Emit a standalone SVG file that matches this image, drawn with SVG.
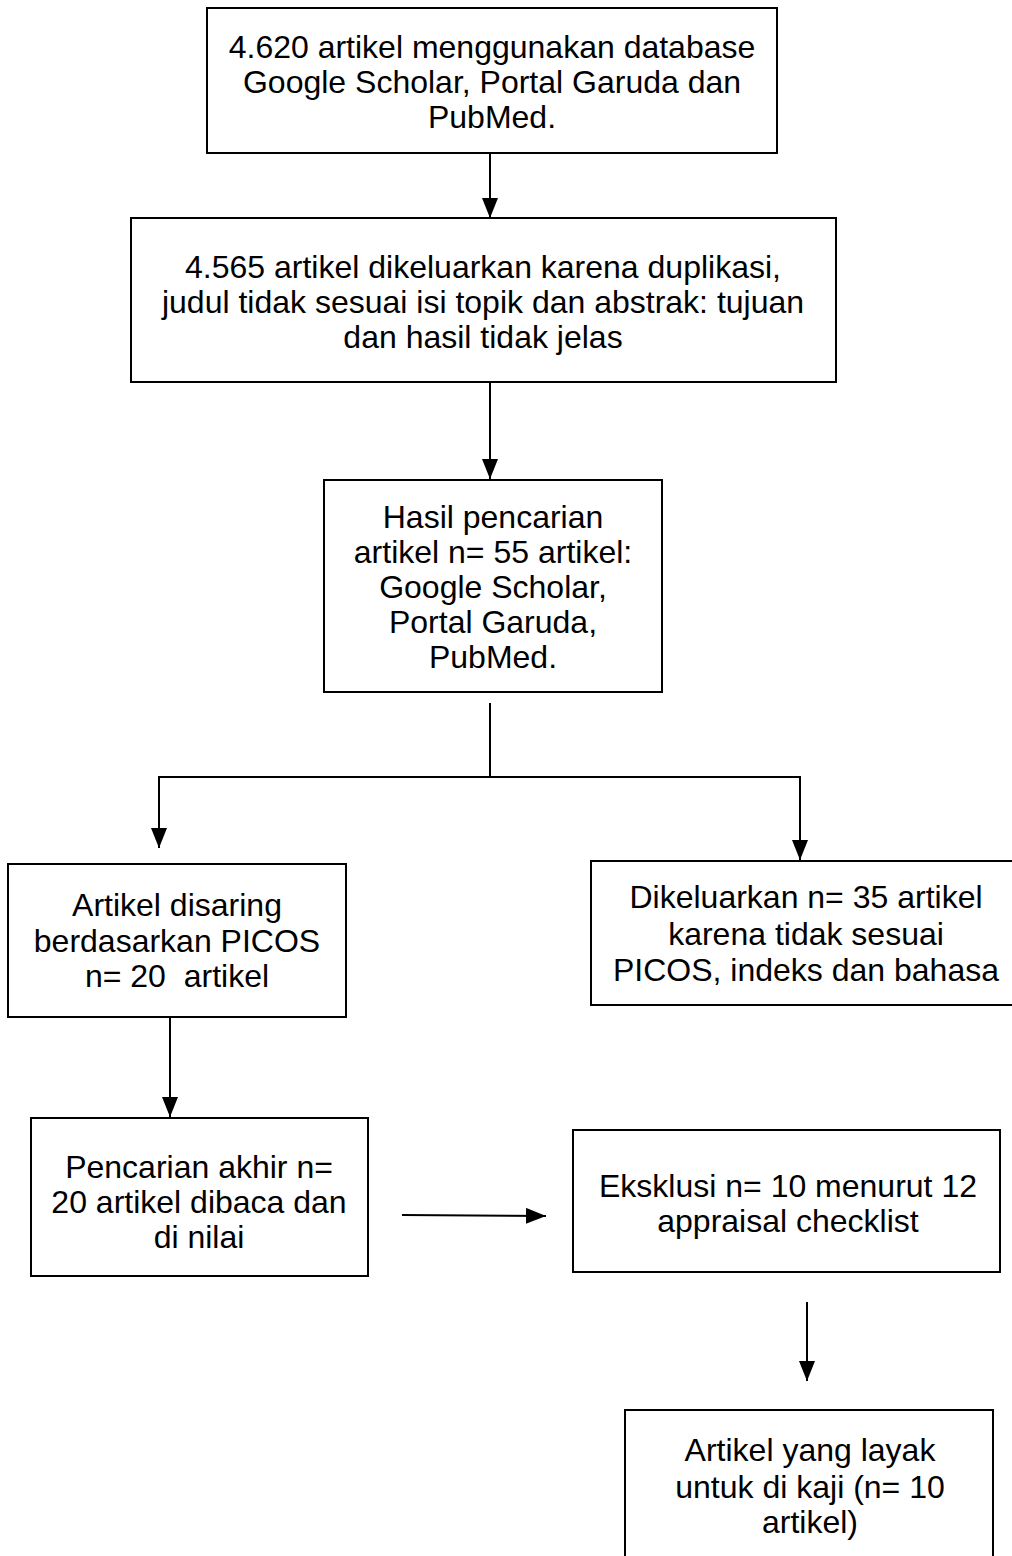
<svg xmlns="http://www.w3.org/2000/svg" width="1012" height="1556" viewBox="0 0 1012 1556">
<style>
.box{fill:#fff;stroke:#000;stroke-width:2}
.t{font-family:"Liberation Sans",Arial,sans-serif;font-size:32px;fill:#000;text-anchor:middle}
.c{stroke:#000;stroke-width:2;fill:none}
</style>
<defs>
<marker id="ah" markerUnits="userSpaceOnUse" markerWidth="20" markerHeight="20" refX="20" refY="8" orient="auto">
<path d="M0,0 L20,8 L0,16 Z" fill="#000"/>
</marker>
</defs>
<rect width="1012" height="1556" fill="#fff"/>
<g id="connectors">
<line class="c" x1="490" y1="153" x2="490" y2="218" marker-end="url(#ah)"/>
<line class="c" x1="490" y1="382" x2="490" y2="479" marker-end="url(#ah)"/>
<polyline class="c" points="490,703 490,777"/>
<polyline class="c" points="159,848 159,777 800,777 800,860" marker-end="url(#ah)"/>
<line class="c" x1="159" y1="777" x2="159" y2="848" marker-end="url(#ah)"/>
<line class="c" x1="170" y1="1017" x2="170" y2="1117" marker-end="url(#ah)"/>
<line class="c" x1="402" y1="1215" x2="546" y2="1216" marker-end="url(#ah)"/>
<line class="c" x1="807" y1="1302" x2="807" y2="1381" marker-end="url(#ah)"/>
</g>
<g id="n1">
<rect class="box" x="207" y="8" width="570" height="145"/>
<text class="t" x="492" y="58">4.620 artikel menggunakan database</text>
<text class="t" x="492" y="93">Google Scholar, Portal Garuda dan</text>
<text class="t" x="492" y="128">PubMed.</text>
</g>
<g id="n2">
<rect class="box" x="131" y="218" width="705" height="164"/>
<text class="t" x="483" y="278">4.565 artikel dikeluarkan karena duplikasi,</text>
<text class="t" x="483" y="313">judul tidak sesuai isi topik dan abstrak: tujuan</text>
<text class="t" x="483" y="348">dan hasil tidak jelas</text>
</g>
<g id="n3">
<rect class="box" x="324" y="480" width="338" height="212"/>
<text class="t" x="493" y="528">Hasil pencarian</text>
<text class="t" x="493" y="563">artikel n= 55 artikel:</text>
<text class="t" x="493" y="598">Google Scholar,</text>
<text class="t" x="493" y="633">Portal Garuda,</text>
<text class="t" x="493" y="668">PubMed.</text>
</g>
<g id="n4">
<rect class="box" x="8" y="864" width="338" height="153"/>
<text class="t" x="177" y="916">Artikel disaring</text>
<text class="t" x="177" y="952">berdasarkan PICOS</text>
<text class="t" x="177" y="987" xml:space="preserve">n= 20  artikel</text>
</g>
<g id="n5">
<rect class="box" x="591" y="861" width="430" height="144"/>
<text class="t" x="806" y="908">Dikeluarkan n= 35 artikel</text>
<text class="t" x="806" y="945">karena tidak sesuai</text>
<text class="t" x="806" y="981">PICOS, indeks dan bahasa</text>
</g>
<g id="n6">
<rect class="box" x="31" y="1118" width="337" height="158"/>
<text class="t" x="199" y="1178">Pencarian akhir n=</text>
<text class="t" x="199" y="1213">20 artikel dibaca dan</text>
<text class="t" x="199" y="1248">di nilai</text>
</g>
<g id="n7">
<rect class="box" x="573" y="1130" width="427" height="142"/>
<text class="t" x="788" y="1197">Eksklusi n= 10 menurut 12</text>
<text class="t" x="788" y="1232">appraisal checklist</text>
</g>
<g id="n8">
<rect class="box" x="625" y="1410" width="368" height="160"/>
<text class="t" x="810" y="1461">Artikel yang layak</text>
<text class="t" x="810" y="1498">untuk di kaji (n= 10</text>
<text class="t" x="810" y="1533">artikel)</text>
</g>
</svg>
